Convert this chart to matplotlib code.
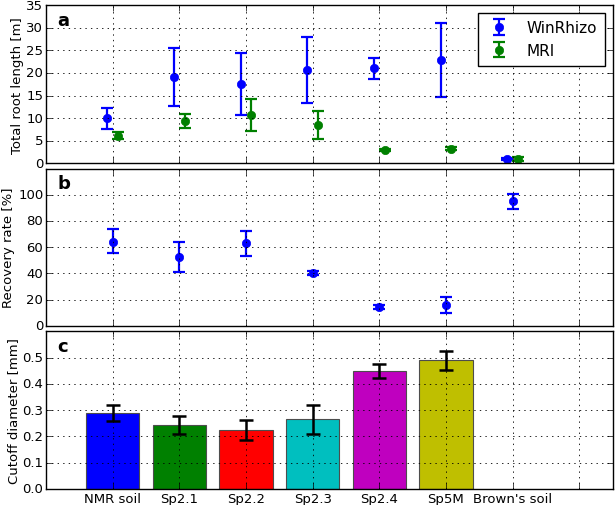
import numpy as np
import matplotlib
matplotlib.use('Agg')
import matplotlib.pyplot as plt

plt.style.use('classic')
plt.rcParams['font.family'] = ['DejaVu Sans']
plt.rcParams['font.size'] = 9.5

# Data
soils = ["NMR soil", "Sp2.1", "Sp2.2", "Sp2.3", "Sp2.4", "Sp5M", "Brown's soil"]

winrhizo_len = [10.0, 19.0, 17.6, 20.6, 21.0, 22.8, 1.0]
winrhizo_lo = [7.7, 12.6, 10.7, 13.3, 18.7, 14.7, 0.7]
winrhizo_hi = [12.15, 25.6, 24.5, 28.0, 23.4, 31.1, 1.3]

mri_len = [6.1, 9.3, 10.7, 8.4, 3.0, 3.3, 1.0]
mri_lo = [5.3, 7.85, 7.1, 5.3, 2.75, 3.0, 0.65]
mri_hi = [7.0, 10.9, 14.2, 11.5, 3.25, 3.6, 1.35]

recovery = [64.3, 52.6, 63.3, 40.6, 14.3, 16.1, 95.2]
recovery_lo = [55.4, 40.8, 53.6, 39.1, 12.8, 9.7, 89.3]
recovery_hi = [73.5, 64.3, 72.7, 42.1, 15.8, 22.4, 100.5]

cutoff = [0.29, 0.244, 0.224, 0.266, 0.448, 0.49]
cutoff_lo = [0.258, 0.21, 0.187, 0.21, 0.421, 0.454]
cutoff_hi = [0.32, 0.278, 0.262, 0.319, 0.476, 0.524]
bar_colors = ['b', 'g', 'r', 'c', 'm', 'y']

x = np.arange(1, len(soils) + 1)
xc = np.arange(1, len(cutoff) + 1)


def yerr(v, lo, hi):
    v = np.array(v)
    return [v - np.array(lo), np.array(hi) - v]


fig = plt.figure(figsize=(6.15, 5.06), dpi=100)
fig.patch.set_facecolor('white')
left, width = 0.075, 0.921
ax1 = fig.add_axes([left, 0.675, width, 0.313])
ax2 = fig.add_axes([left, 0.354, width, 0.311], sharex=ax1)
ax3 = fig.add_axes([left, 0.032, width, 0.311], sharex=ax1)

eb = dict(fmt='o', markersize=6, elinewidth=1.6, capsize=4.5, capthick=1.6)

# a: total root length
off = 0.08
ax1.errorbar(x - off, winrhizo_len, yerr=yerr(winrhizo_len, winrhizo_lo, winrhizo_hi),
             color='b', mec='b', ecolor='b', label='WinRhizo', **eb)
ax1.errorbar(x + off, mri_len, yerr=yerr(mri_len, mri_lo, mri_hi),
             color='g', mec='g', ecolor='g', label='MRI', **eb)
ax1.set_ylim(0, 35)
ax1.set_yticks(np.arange(0, 36, 5))
ax1.set_ylabel('Total root length [m]', labelpad=2)
ax1.legend(loc='upper right', numpoints=1, fontsize=11, borderaxespad=0.5,
           handlelength=1.8, handletextpad=0.9, borderpad=0.5, fancybox=False)

# b: recovery rate
ax2.errorbar(x, recovery, yerr=yerr(recovery, recovery_lo, recovery_hi),
             color='b', mec='b', ecolor='b', **eb)
ax2.set_ylim(0, 120)
ax2.set_yticks(np.arange(0, 101, 20))
ax2.set_ylabel('Recovery rate [%]', labelpad=2)

# c: cutoff diameter
ax3.bar(xc, cutoff, width=0.8, color=bar_colors, edgecolor='0.3', linewidth=0.8,
        yerr=yerr(cutoff, cutoff_lo, cutoff_hi), ecolor='k',
        error_kw=dict(elinewidth=1.8, capsize=5, capthick=1.8))
ax3.set_ylim(0, 0.6)
ax3.set_yticks(np.arange(0, 0.51, 0.1))
ax3.set_ylabel('Cutoff diameter [mm]', labelpad=2)

ax3.set_xlim(0, 8.5)
ax3.set_xticks(np.arange(1, 9))
ax3.set_xticklabels(soils + [''])

for ax, lab in zip([ax1, ax2, ax3], ['a', 'b', 'c']):
    ax.grid(True, color='k', linestyle=':', linewidth=0.6)
    ax.set_axisbelow(False)
    ax.text(0.02, 0.965, lab, transform=ax.transAxes, fontsize=13,
            fontweight='bold', va='top', ha='left')
    ax.tick_params(labelsize=9.5, pad=2)
for ax in [ax1, ax2]:
    plt.setp(ax.get_xticklabels(), visible=False)

fig.savefig('out.png', dpi=100, facecolor='white')
